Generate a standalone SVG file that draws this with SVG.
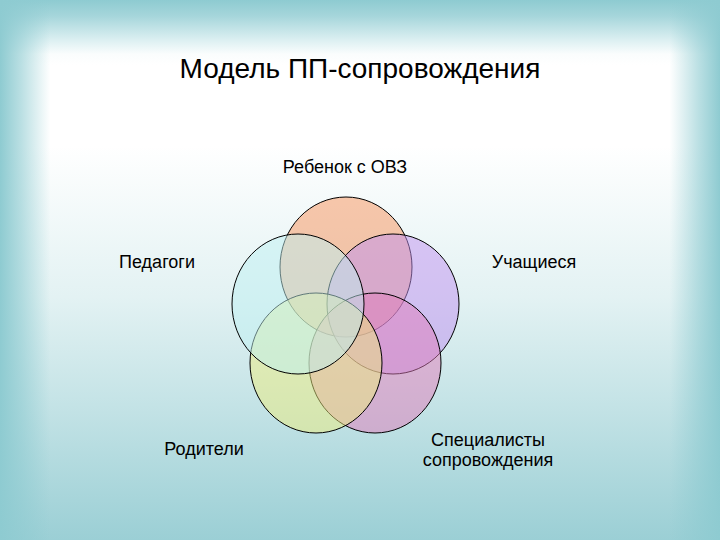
<svg xmlns="http://www.w3.org/2000/svg" width="720" height="540" viewBox="0 0 720 540">
  <defs>
    <linearGradient id="vg" x1="0" y1="0" x2="0" y2="1">
      <stop offset="0" stop-color="#8ECBD1"/>
      <stop offset="0.03" stop-color="#A6D6DB"/>
      <stop offset="0.075" stop-color="#DDF0F2"/>
      <stop offset="0.1" stop-color="#FAFDFD"/>
      <stop offset="0.12" stop-color="#FFFFFF"/>
      <stop offset="0.27" stop-color="#FFFFFF"/>
      <stop offset="0.55" stop-color="#E3F2F3"/>
      <stop offset="0.75" stop-color="#C4E3E6"/>
      <stop offset="1" stop-color="#9BCFD5"/>
    </linearGradient>
    <linearGradient id="hg" x1="0" y1="0" x2="1" y2="0">
      <stop offset="0" stop-color="#8ECBD1" stop-opacity="1"/>
      <stop offset="0.03" stop-color="#8ECBD1" stop-opacity="0.6"/>
      <stop offset="0.07" stop-color="#8ECBD1" stop-opacity="0"/>
      <stop offset="0.93" stop-color="#8ECBD1" stop-opacity="0"/>
      <stop offset="0.97" stop-color="#8ECBD1" stop-opacity="0.6"/>
      <stop offset="1" stop-color="#8ECBD1" stop-opacity="1"/>
    </linearGradient>
  </defs>
  <style>
    .c { stroke: #000; stroke-width: 1; fill-opacity: 0.5; }
    .t { font-family: "Liberation Sans", Arial, sans-serif; fill: #000; text-anchor: middle; }
    .lbl { font-size: 18px; }
    .title { font-size: 28px; }
  </style>
  <rect x="0" y="0" width="720" height="540" fill="url(#vg)"/>
  <rect x="0" y="0" width="720" height="540" fill="url(#hg)"/>

  <text class="t title" x="360" y="78">Модель ПП-сопровождения</text>

  <g id="connectors"/>

  <g id="node-child">
    <ellipse class="c" cx="346" cy="267" rx="66" ry="70" fill="#F7915A"/>
  </g>
  <g id="node-students">
    <ellipse class="c" cx="393" cy="304" rx="66" ry="70" fill="#C090EF"/>
  </g>
  <g id="node-specialists">
    <ellipse class="c" cx="375" cy="363" rx="66" ry="70" fill="#DF7CBA"/>
  </g>
  <g id="node-parents">
    <ellipse class="c" cx="316" cy="363" rx="66" ry="70" fill="#EBEC7E"/>
  </g>
  <g id="node-teachers">
    <ellipse class="c" cx="298" cy="304" rx="66" ry="70" fill="#BEEFF2"/>
  </g>

  <text class="t lbl" x="345" y="173">Ребенок с ОВЗ</text>
  <text class="t lbl" x="157" y="268">Педагоги</text>
  <text class="t lbl" x="534" y="268">Учащиеся</text>
  <text class="t lbl" x="204" y="455">Родители</text>
  <text class="t lbl" x="488" y="446">Специалисты</text>
  <text class="t lbl" x="488" y="466">сопровождения</text>
</svg>
